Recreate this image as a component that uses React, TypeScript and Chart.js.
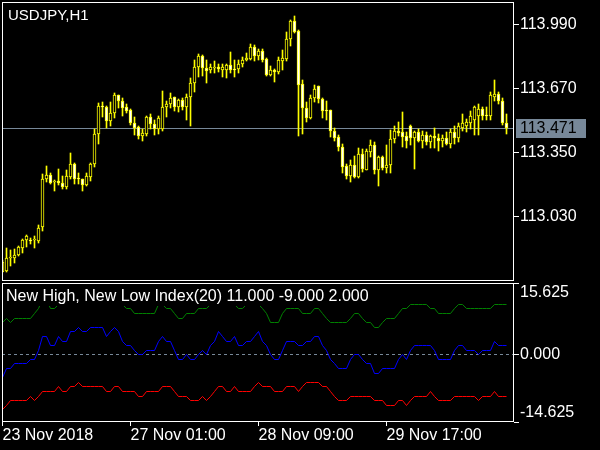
import React, { useEffect, useRef } from 'react';
import { Chart, registerables } from 'chart.js';

Chart.register(...registerables);

// ---------------- data ----------------
const symbolTitle = 'USDJPY,H1';
const indicatorName = 'New High, New Low Index(20)';

const opens = [
  112.755, 112.757, 112.824, 112.824, 112.839, 112.872, 112.914, 112.913, 112.913, 112.910,
  112.977, 113.219, 113.240, 113.200, 113.210, 113.199, 113.177, 113.227, 113.290, 113.219,
  113.219, 113.185, 113.227, 113.290, 113.444, 113.583, 113.580, 113.507, 113.549, 113.635,
  113.610, 113.580, 113.560, 113.499, 113.477, 113.432, 113.444, 113.527, 113.494, 113.469,
  113.469, 113.577, 113.590, 113.627, 113.580, 113.614, 113.580, 113.627, 113.699, 113.777,
  113.835, 113.774, 113.764, 113.773, 113.777, 113.764, 113.764, 113.789, 113.769, 113.769,
  113.794, 113.814, 113.819, 113.880, 113.835, 113.860, 113.819, 113.740, 113.764, 113.752,
  113.810, 113.819, 113.919, 114.010, 113.960, 113.694, 113.574, 113.524, 113.624, 113.680,
  113.619, 113.560, 113.560, 113.460, 113.427, 113.380, 113.280, 113.230, 113.289, 113.227,
  113.340, 113.264, 113.352, 113.390, 113.260, 113.330, 113.274, 113.289, 113.419, 113.460,
  113.455, 113.430, 113.480, 113.425, 113.450, 113.410, 113.440, 113.405, 113.430, 113.420,
  113.410, 113.425, 113.395, 113.455, 113.420, 113.475, 113.485, 113.495, 113.510, 113.535,
  113.570, 113.535, 113.535, 113.630, 113.645, 113.605, 113.500,
];
const highs = [
  112.810, 112.872, 112.860, 112.867, 112.882, 112.915, 112.935, 112.924, 112.930, 112.990,
  113.244, 113.285, 113.249, 113.214, 113.269, 113.235, 113.260, 113.349, 113.295, 113.247,
  113.220, 113.249, 113.297, 113.469, 113.597, 113.602, 113.583, 113.602, 113.647, 113.640,
  113.624, 113.590, 113.569, 113.527, 113.480, 113.469, 113.533, 113.540, 113.510, 113.535,
  113.660, 113.610, 113.649, 113.630, 113.619, 113.624, 113.644, 113.724, 113.815, 113.844,
  113.840, 113.815, 113.794, 113.805, 113.790, 113.794, 113.794, 113.852, 113.815, 113.815,
  113.827, 113.849, 113.894, 113.890, 113.869, 113.869, 113.822, 113.785, 113.770, 113.827,
  113.865, 113.955, 114.015, 114.035, 113.965, 113.714, 113.602, 113.635, 113.689, 113.683,
  113.624, 113.610, 113.564, 113.474, 113.435, 113.394, 113.294, 113.310, 113.335, 113.374,
  113.369, 113.369, 113.414, 113.402, 113.335, 113.335, 113.385, 113.464, 113.485, 113.502,
  113.552, 113.455, 113.490, 113.460, 113.470, 113.460, 113.455, 113.440, 113.475, 113.445,
  113.440, 113.450, 113.465, 113.485, 113.500, 113.545, 113.520, 113.555, 113.585, 113.595,
  113.580, 113.580, 113.650, 113.715, 113.655, 113.625, 113.545,
];
const lows = [
  112.750, 112.755, 112.785, 112.797, 112.835, 112.847, 112.877, 112.890, 112.872, 112.897,
  112.960, 113.202, 113.194, 113.157, 113.185, 113.165, 113.165, 113.219, 113.194, 113.194,
  113.157, 113.180, 113.210, 113.277, 113.394, 113.527, 113.474, 113.485, 113.524, 113.574,
  113.535, 113.547, 113.490, 113.435, 113.415, 113.407, 113.430, 113.469, 113.435, 113.444,
  113.457, 113.527, 113.574, 113.557, 113.552, 113.560, 113.515, 113.480, 113.652, 113.727,
  113.735, 113.699, 113.747, 113.747, 113.752, 113.727, 113.722, 113.749, 113.727, 113.747,
  113.777, 113.805, 113.815, 113.810, 113.815, 113.802, 113.735, 113.732, 113.705, 113.744,
  113.760, 113.810, 113.882, 113.947, 113.432, 113.444, 113.502, 113.520, 113.602, 113.597,
  113.524, 113.510, 113.427, 113.410, 113.360, 113.247, 113.219, 113.202, 113.224, 113.224,
  113.252, 113.260, 113.330, 113.244, 113.180, 113.260, 113.247, 113.247, 113.397, 113.430,
  113.377, 113.375, 113.385, 113.270, 113.400, 113.370, 113.385, 113.370, 113.375, 113.360,
  113.380, 113.385, 113.375, 113.395, 113.405, 113.460, 113.455, 113.470, 113.440, 113.435,
  113.510, 113.515, 113.510, 113.610, 113.590, 113.490, 113.445,
];
const closes = [
  112.800, 112.824, 112.825, 112.839, 112.877, 112.914, 112.934, 112.910, 112.915, 112.975,
  113.219, 113.240, 113.197, 113.207, 113.197, 113.177, 113.230, 113.290, 113.219, 113.218,
  113.185, 113.230, 113.290, 113.444, 113.585, 113.580, 113.507, 113.549, 113.635, 113.607,
  113.574, 113.557, 113.497, 113.474, 113.430, 113.449, 113.530, 113.494, 113.469, 113.524,
  113.580, 113.594, 113.624, 113.580, 113.614, 113.580, 113.630, 113.699, 113.777, 113.835,
  113.774, 113.757, 113.780, 113.780, 113.769, 113.775, 113.789, 113.760, 113.764, 113.794,
  113.815, 113.822, 113.880, 113.835, 113.857, 113.815, 113.740, 113.764, 113.752, 113.815,
  113.824, 113.919, 114.010, 113.955, 113.690, 113.574, 113.524, 113.624, 113.669, 113.619,
  113.557, 113.559, 113.457, 113.422, 113.377, 113.277, 113.230, 113.289, 113.227, 113.340,
  113.265, 113.357, 113.390, 113.260, 113.330, 113.274, 113.289, 113.419, 113.460, 113.447,
  113.427, 113.410, 113.425, 113.450, 113.410, 113.440, 113.405, 113.430, 113.420, 113.410,
  113.425, 113.395, 113.455, 113.420, 113.480, 113.495, 113.505, 113.535, 113.575, 113.570,
  113.535, 113.532, 113.635, 113.645, 113.605, 113.500, 113.471,
];

const newHighs = [
  7, 8, 7, 8, 8, 8, 8, 8, 9, 10, 12, 12, 10, 10, 11, 11, 11, 12, 12, 12,
  12, 12, 13, 13, 13, 13, 12, 13, 13, 12, 11, 10, 10, 9, 9, 9, 9, 9, 9, 11,
  11, 10, 10, 9, 8, 8, 9, 9, 9, 10, 10, 10, 11, 11, 12, 11, 11, 11, 11, 10,
  10, 11, 11, 11, 11, 10, 9, 7, 7, 7, 9, 10, 10, 10, 10, 9, 9, 9, 10, 10,
  9, 8, 7, 7, 7, 7, 7, 8, 9, 9, 8, 7, 7, 6, 6, 7, 8, 8, 8, 9,
  10, 10, 11, 11, 11, 11, 11, 10, 10, 9, 9, 9, 9, 10, 11, 11, 10, 10, 10, 10,
  10, 10, 10, 11, 11, 11, 11,
];
const newLows = [
  -12, -11, -10, -10, -10, -10, -10, -9, -10, -9, -8, -8, -8, -8, -7, -8, -8, -7, -7, -6,
  -7, -7, -7, -7, -7, -7, -8, -8, -7, -7, -8, -8, -8, -8, -9, -9, -8, -8, -8, -8,
  -7, -7, -7, -8, -9, -9, -9, -10, -10, -10, -9, -10, -9, -8, -7, -7, -8, -8, -7, -8,
  -8, -8, -8, -7, -6, -7, -7, -7, -8, -8, -8, -7, -7, -7, -8, -7, -6, -6, -6, -6,
  -7, -7, -8, -9, -10, -10, -10, -9, -9, -9, -9, -9, -9, -10, -10, -10, -11, -11, -11, -10,
  -10, -11, -10, -9, -9, -9, -9, -8, -9, -10, -10, -10, -10, -9, -9, -9, -9, -9, -9, -10,
  -9, -9, -9, -8, -9, -9, -9,
];
const hlIndex = [
  -5, -3, -3, -2, -2, -2, -2, -1, -1, 1, 4, 4, 2, 2, 4, 3, 3, 5, 5, 6,
  5, 5, 6, 6, 6, 6, 4, 5, 6, 5, 3, 2, 2, 1, 0, 0, 1, 1, 1, 3,
  4, 3, 3, 1, -1, -1, 0, -1, -1, 0, 1, 0, 2, 3, 5, 4, 3, 3, 4, 2,
  2, 3, 3, 4, 5, 3, 2, 0, -1, -1, 1, 3, 3, 3, 2, 2, 3, 3, 4, 4,
  2, 1, -1, -2, -3, -3, -3, -1, 0, 0, -1, -2, -2, -4, -4, -3, -3, -3, -3, -1,
  0, -1, 1, 2, 2, 2, 2, 2, 1, -1, -1, -1, -1, 1, 2, 2, 1, 1, 1, 0,
  1, 1, 1, 3, 2, 2, 2,
];

const priceTicks = [113.03, 113.35, 113.67, 113.99];
const indexTicks = [-14.625, 0, 15.625];
const indexLevels = [0];
const timeTickBars = [0, 32, 64, 96];
const timeTickLabels = ['23 Nov 2018', '27 Nov 01:00', '28 Nov 09:00', '29 Nov 17:00'];

// ---------------- styles ----------------
const FONT = 'Liberation Sans';
const WHITE = '#ffffff';
const SLATE = '#778899';
const CANDLE = '#ffff00';
const X_MIN = -0.125;
const X_MAX = 127.875;

Chart.defaults.font.family = FONT;
Chart.defaults.font.size = 16;
Chart.defaults.color = WHITE;

const noPadY = (w: number) => (s: any) => {
  s.width = w;
  s.paddingTop = 0;
  s.paddingBottom = 0;
};

const framePlugin = {
  id: 'frame',
  afterDraw(chart: any) {
    const { ctx, chartArea: a } = chart;
    ctx.save();
    ctx.strokeStyle = WHITE;
    ctx.lineWidth = 1;
    ctx.strokeRect(a.left + 0.5, a.top + 0.5, a.right - a.left - 1, a.bottom - a.top - 1);
    ctx.restore();
  },
};

// snap drawn elements to the pixel grid (like the terminal does)
const snapPlugin = {
  id: 'snap',
  afterDatasetsUpdate(chart: any) {
    chart.data.datasets.forEach((_: any, di: number) => {
      const meta = chart.getDatasetMeta(di);
      meta.data.forEach((el: any) => {
        if (meta.type === 'bar') {
          let y = Math.round(el.y);
          let b = Math.round(el.base);
          if (Math.abs(b - y) < 1) b = y + 1;
          el.y = y;
          el.base = b;
          el.height = b - y;
        } else {
          el.y = Math.floor(el.y) + 0.5;
        }
      });
    });
  },
};

export default function App() {
  const topRef = useRef<HTMLCanvasElement>(null);
  const botRef = useRef<HTMLCanvasElement>(null);

  useEffect(() => {
    const lastClose = closes[closes.length - 1];

    const pricePlugin = {
      id: 'priceLine',
      beforeDatasetsDraw(chart: any) {
        const { ctx, chartArea: a } = chart;
        const y = Math.round(chart.scales.y.getPixelForValue(lastClose)) + 0.5;
        ctx.save();
        ctx.strokeStyle = SLATE;
        ctx.lineWidth = 1;
        ctx.beginPath();
        ctx.moveTo(a.left, y);
        ctx.lineTo(a.right, y);
        ctx.stroke();
        ctx.restore();
      },
      afterDraw(chart: any) {
        const { ctx } = chart;
        const y = Math.round(chart.scales.y.getPixelForValue(lastClose));
        ctx.save();
        ctx.fillStyle = SLATE;
        ctx.fillRect(516, y - 9, 70, 19);
        ctx.fillStyle = '#000000';
        ctx.font = `16px ${FONT}`;
        ctx.textBaseline = 'middle';
        ctx.textAlign = 'left';
        ctx.fillText(lastClose.toFixed(3), 520, y + 1);
        ctx.fillStyle = WHITE;
        ctx.font = `15px ${FONT}`;
        ctx.textBaseline = 'alphabetic';
        ctx.fillText(symbolTitle, 8, 20);
        ctx.restore();
      },
    };

    const top = new Chart(topRef.current as HTMLCanvasElement, {
      type: 'bar',
      data: {
        datasets: [
          {
            label: 'wicks',
            data: lows.map((l, i) => ({ x: i, y: [l, highs[i]] })) as any,
            backgroundColor: CANDLE,
            borderWidth: 0,
            barThickness: 1,
            grouped: false,
            order: 2,
          },
          {
            label: 'bodies',
            data: opens.map((o, i) => ({ x: i, y: [o, closes[i]] })) as any,
            backgroundColor: opens.map((o, i) => (closes[i] >= o ? '#000000' : WHITE)),
            borderColor: CANDLE,
            borderWidth: 1,
            borderSkipped: false,
            barThickness: 3,
            minBarLength: 1,
            grouped: false,
            order: 1,
          },
        ],
      },
      options: {
        animation: false,
        responsive: false,
        events: [],
        layout: { padding: { left: 2, top: 2, right: 0, bottom: 1 } },
        plugins: { legend: { display: false }, tooltip: { enabled: false } },
        scales: {
          x: { type: 'linear', min: X_MIN, max: X_MAX, offset: false, display: false },
          y: {
            position: 'right',
            min: 112.7075,
            max: 114.1025,
            afterFit: noPadY(86),
            afterBuildTicks: (s: any) => { s.ticks = priceTicks.map((value) => ({ value })); },
            ticks: {
              color: WHITE,
              padding: 1,
              autoSkip: false,
              callback: (v: any) => Number(v).toFixed(3),
            },
            grid: { drawOnChartArea: false, drawTicks: true, tickLength: 5, color: WHITE },
            border: { display: false },
          },
        },
      } as any,
      plugins: [snapPlugin, pricePlugin, framePlugin],
    });

    const legendText = `${indicatorName} ${newHighs[newHighs.length - 1].toFixed(3)} ${newLows[newLows.length - 1].toFixed(3)} ${hlIndex[hlIndex.length - 1].toFixed(3)}`;

    const indPlugin = {
      id: 'indicatorDecor',
      beforeDatasetsDraw(chart: any) {
        const { ctx, chartArea: a } = chart;
        ctx.save();
        ctx.strokeStyle = SLATE;
        ctx.lineWidth = 1;
        ctx.setLineDash([3, 3]);
        indexLevels.forEach((lv) => {
          const y = Math.floor(chart.scales.y.getPixelForValue(lv)) + 0.5;
          ctx.beginPath();
          ctx.moveTo(a.left, y);
          ctx.lineTo(a.right, y);
          ctx.stroke();
        });
        ctx.restore();
      },
      afterDatasetsDraw(chart: any) {
        const { ctx } = chart;
        ctx.save();
        ctx.font = `16px ${FONT}`;
        const w = ctx.measureText(legendText).width;
        ctx.fillStyle = '#000000';
        ctx.fillRect(3, 2, w + 6, 22);
        ctx.fillStyle = WHITE;
        ctx.textBaseline = 'alphabetic';
        ctx.textAlign = 'left';
        ctx.fillText(legendText, 6, 19);
        ctx.restore();
      },
    };

    const bot = new Chart(botRef.current as HTMLCanvasElement, {
      type: 'line',
      data: {
        datasets: [
          {
            label: 'New High',
            data: newHighs.map((v, i) => ({ x: i, y: v })),
            borderColor: '#008000',
            borderWidth: 1,
            pointRadius: 0,
            tension: 0,
          },
          {
            label: 'Index',
            data: hlIndex.map((v, i) => ({ x: i, y: v })),
            borderColor: '#0000ff',
            borderWidth: 1,
            pointRadius: 0,
            tension: 0,
          },
          {
            label: 'New Low',
            data: newLows.map((v, i) => ({ x: i, y: v })),
            borderColor: '#ff0000',
            borderWidth: 1,
            pointRadius: 0,
            tension: 0,
          },
        ],
      },
      options: {
        animation: false,
        responsive: false,
        events: [],
        layout: { padding: { left: 2, top: 1, right: 0, bottom: 0 } },
        plugins: { legend: { display: false }, tooltip: { enabled: false } },
        scales: {
          x: {
            type: 'linear',
            min: X_MIN,
            max: X_MAX,
            offset: false,
            afterFit: (s: any) => { s.height = 28; s.paddingLeft = 0; s.paddingRight = 0; },
            afterBuildTicks: (s: any) => { s.ticks = timeTickBars.map((value) => ({ value })); },
            ticks: {
              color: WHITE,
              align: 'start',
              padding: 0,
              autoSkip: false,
              maxRotation: 0,
              callback: (v: any) => {
                const k = timeTickBars.indexOf(Number(v));
                return k >= 0 ? timeTickLabels[k] : '';
              },
            },
            grid: { drawOnChartArea: false, drawTicks: true, tickLength: 4, color: WHITE },
            border: { display: false },
          },
          y: {
            position: 'right',
            min: -14.625,
            max: 15.625,
            afterFit: noPadY(86),
            afterBuildTicks: (s: any) => { s.ticks = indexTicks.map((value) => ({ value })); },
            ticks: {
              color: WHITE,
              padding: 1,
              autoSkip: false,
              callback: (v: any) => {
                const n = Number(v);
                const t = n.toFixed(3);
                if (n === indexTicks[indexTicks.length - 1]) return ['', t];
                if (n === indexTicks[0]) return [t, ''];
                return t;
              },
            },
            grid: { drawOnChartArea: false, drawTicks: true, tickLength: 5, color: WHITE },
            border: { display: false },
          },
        },
      } as any,
      plugins: [snapPlugin, indPlugin, framePlugin],
    });

    return () => {
      top.destroy();
      bot.destroy();
    };
  }, []);

  return (
    <div style={{ position: 'fixed', left: 0, top: 0, width: 600, height: 450, background: '#000000', overflow: 'hidden' }}>
      <canvas ref={topRef} width={600} height={282} style={{ position: 'absolute', left: 0, top: 0 }} />
      <canvas ref={botRef} width={600} height={168} style={{ position: 'absolute', left: 0, top: 282 }} />
    </div>
  );
}
